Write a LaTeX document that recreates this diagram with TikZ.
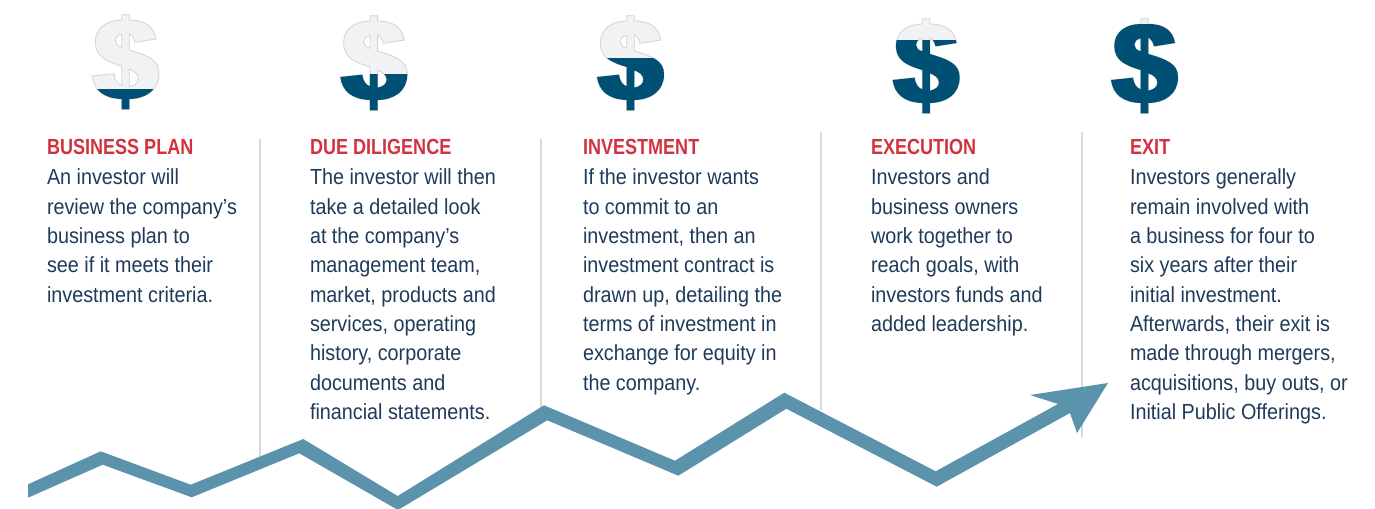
\documentclass[tikz,border=0pt]{standalone}
\usepackage{fontspec}
\setmainfont[FakeStretch=0.905,BoldFeatures={FakeStretch=0.825}]{Liberation Sans}
\definecolor{ink}{HTML}{1F3A5A}
\definecolor{headred}{HTML}{D2323F}
\definecolor{deep}{HTML}{005075}
\definecolor{pale}{HTML}{F1F2F4}
\definecolor{paleedge}{HTML}{D2D3D5}
\definecolor{teal}{HTML}{5B93AC}
\definecolor{rule}{HTML}{D9D9D9}
\tikzset{
 x=0.75pt,y=-0.75pt,
 coltext/.style={anchor=north west,inner sep=0pt,outer sep=0pt,text=ink,font=\fontsize{16.4}{22}\selectfont,align=left},
 colhead/.style={anchor=north west,inner sep=0pt,outer sep=0pt,text=headred,font=\fontsize{16.4}{22}\selectfont\bfseries},
 divider/.style={draw=rule,line width=1pt},
}
\newcommand{\dollarshape}{(155,44) -- (178,44) -- (178,60)
 .. controls (225,60) and (252,80) .. (258,117) -- (195,127)
 .. controls (192,114) and (186,105) .. (178,101) -- (178,150)
 .. controls (235,167) and (267,180) .. (267,220)
 .. controls (267,270) and (228,296) .. (178,297)
 -- (178,328) -- (155,328) -- (155,297)
 .. controls (100,295) and (72,270) .. (66,228) -- (132,221)
 .. controls (134,240) and (143,252) .. (155,256) -- (155,198)
 .. controls (105,183) and (76,168) .. (76,125)
 .. controls (76,85) and (110,60) .. (155,60) -- cycle
 (155,103) .. controls (142,106) and (136,113) .. (136,122)
 .. controls (136,132) and (143,138) .. (155,142) -- cycle
 (178,208) -- (178,260) .. controls (195,257) and (205,248) .. (205,236)
 .. controls (205,222) and (193,213) .. (178,208) -- cycle}
\newcommand{\dollarfill}[3]{%
 \begin{scope}[shift={(#1,#2)},x=0.25pt,y=-0.25pt]
  \filldraw[even odd rule,fill=pale,draw=paleedge,line width=0.6pt] \dollarshape;
  \begin{scope}
   \clip (40,#3) rectangle (290,340);
   \fill[even odd rule,deep] \dollarshape;
  \end{scope}
 \end{scope}}
\begin{document}
\begin{tikzpicture}
\useasboundingbox (0,0) rectangle (1375,508);
\dollarfill{70}{0}{267}
\dollarfill{318.3}{1}{219}
\dollarfill{575}{1}{171}
\dollarfill{870.6}{4}{110}
\dollarfill{1089}{4}{60}
\draw[divider] (260,139) -- (260,457);
\draw[divider] (541,139) -- (541,410);
\draw[divider] (821,132) -- (821,410);
\draw[divider] (1082,132) -- (1082,437);
\fill[teal] (28,484.3) -- (100.7,451.3) -- (190.7,484.7) -- (303.3,439) -- (397.7,496) -- (544,405.3) -- (675,460.7) -- (784.3,392.7) -- (935.7,471.3) -- (1058,404) -- (1030,395) -- (1108,383) -- (1077,433) -- (1070,413) -- (936.7,486.7) -- (786.3,408.7) -- (678.3,475.7) -- (547.3,420.3) -- (398,510) -- (299.3,453.3) -- (191.7,497.3) -- (102.7,464.7) -- (28,497.7) -- cycle;
\node[colhead] (h1) at (47,139) {BUSINESS PLAN};
\node[coltext] (t1) at (47,169) {An investor will\\review the company’s\\business plan to\\see if it meets their\\investment criteria.};
\node[colhead] (h2) at (310,139) {DUE DILIGENCE};
\node[coltext] (t2) at (310,169) {The investor will then\\take a detailed look\\at the company’s\\management team,\\market, products and\\services, operating\\history, corporate\\documents and\\financial statements.};
\node[colhead] (h3) at (583,139) {INVESTMENT};
\node[coltext] (t3) at (583,169) {If the investor wants\\to commit to an\\investment, then an\\investment contract is\\drawn up, detailing the\\terms of investment in\\exchange for equity in\\the company.};
\node[colhead] (h4) at (871,139) {EXECUTION};
\node[coltext] (t4) at (871,169) {Investors and\\business owners\\work together to\\reach goals, with\\investors funds and\\added leadership.};
\node[colhead] (h5) at (1130,139) {EXIT};
\node[coltext] (t5) at (1130,169) {Investors generally\\remain involved with\\a business for four to\\six years after their\\initial investment.\\Afterwards, their exit is\\made through mergers,\\acquisitions, buy outs, or\\Initial Public Offerings.};
\end{tikzpicture}
\end{document}
